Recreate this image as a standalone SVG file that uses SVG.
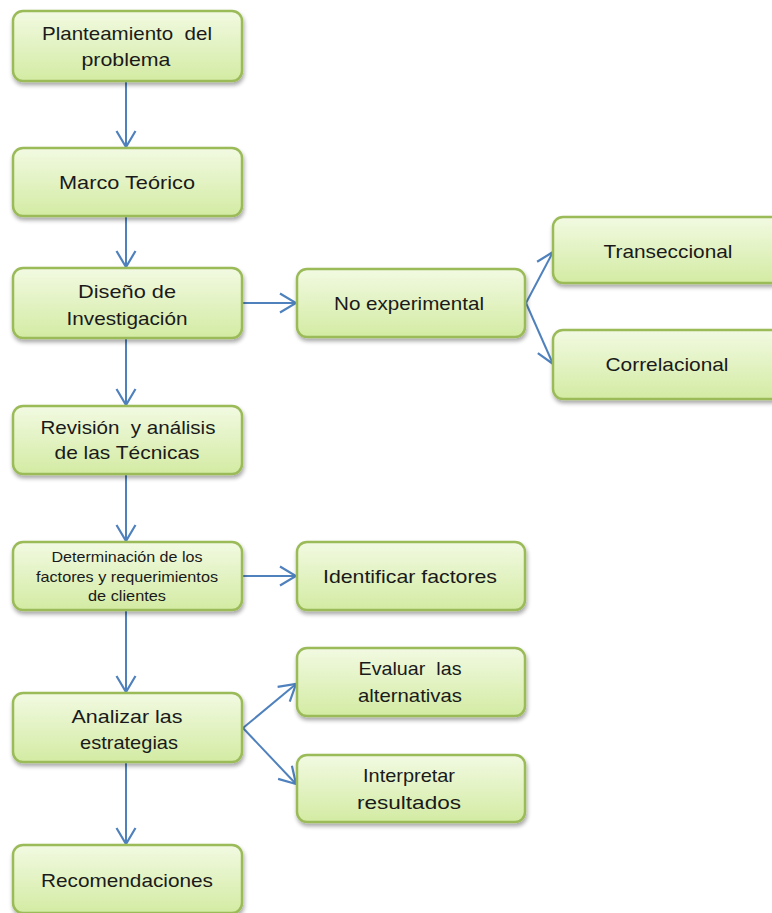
<svg xmlns="http://www.w3.org/2000/svg" width="772" height="913" viewBox="0 0 772 913">
  <style>
    .box { fill: url(#boxFill); stroke: #9bbb59; stroke-width: 2.5; filter: url(#shadow); }
    .lbl { font-family: "Liberation Sans", Arial, sans-serif; font-size: 19px; fill: #1a1a1a; text-anchor: middle; white-space: pre; }
    .sm { font-size: 15px; }
    .edge { fill: none; stroke: #4f81bd; stroke-width: 2; marker-end: url(#arrow); }
  </style>
  <defs>
    <linearGradient id="boxFill" x1="0" y1="0" x2="0" y2="1">
      <stop offset="0" stop-color="#f2fae2"/>
      <stop offset="1" stop-color="#d3eba3"/>
    </linearGradient>
    <filter id="shadow" x="-10%" y="-20%" width="125%" height="150%">
      <feGaussianBlur in="SourceAlpha" stdDeviation="2"/>
      <feOffset dx="1" dy="3" result="b"/>
      <feComponentTransfer><feFuncA type="linear" slope="0.35"/></feComponentTransfer>
      <feMerge><feMergeNode/><feMergeNode in="SourceGraphic"/></feMerge>
    </filter>
    <!-- open V arrowhead -->
    <marker id="arrow" viewBox="0 0 20 22" refX="18" refY="11" markerWidth="20" markerHeight="22" markerUnits="userSpaceOnUse" orient="auto">
      <path d="M2,1.5 L18,11 L2,20.5" fill="none" stroke="#4f81bd" stroke-width="2.2"/>
    </marker>
  </defs>

  <g id="connectors">
    <line class="edge" x1="126" y1="82" x2="126" y2="147"/>
    <line class="edge" x1="126" y1="217" x2="126" y2="267"/>
    <line class="edge" x1="126" y1="339" x2="126" y2="405"/>
    <line class="edge" x1="126" y1="475" x2="126" y2="541"/>
    <line class="edge" x1="126" y1="611" x2="126" y2="692"/>
    <line class="edge" x1="126" y1="763" x2="126" y2="844"/>
    <line class="edge" x1="243" y1="303" x2="296" y2="303"/>
    <line class="edge" x1="526" y1="303" x2="553" y2="252"/>
    <line class="edge" x1="526" y1="303" x2="553" y2="364"/>
    <line class="edge" x1="243" y1="576" x2="296" y2="576"/>
    <line class="edge" x1="243" y1="728" x2="296" y2="684"/>
    <line class="edge" x1="243" y1="728" x2="296" y2="784"/>
  </g>

  <g id="planteamiento">
    <rect class="box" x="13" y="11" width="229" height="70" rx="10"/>
    <text class="lbl" x="127" y="40" textLength="170" lengthAdjust="spacingAndGlyphs">Planteamiento  del</text>
    <text class="lbl" x="126" y="66" textLength="89" lengthAdjust="spacingAndGlyphs">problema</text>
  </g>
  <g id="marco">
    <rect class="box" x="13" y="148" width="229" height="68" rx="10"/>
    <text class="lbl" x="127" y="189" textLength="136" lengthAdjust="spacingAndGlyphs">Marco Teórico</text>
  </g>
  <g id="diseno">
    <rect class="box" x="13" y="268" width="229" height="70" rx="10"/>
    <text class="lbl" x="127" y="298" textLength="98" lengthAdjust="spacingAndGlyphs">Diseño de</text>
    <text class="lbl" x="127" y="325" textLength="121" lengthAdjust="spacingAndGlyphs">Investigación</text>
  </g>
  <g id="revision">
    <rect class="box" x="13" y="406" width="229" height="68" rx="10"/>
    <text class="lbl" x="128" y="434" textLength="175" lengthAdjust="spacingAndGlyphs">Revisión  y análisis</text>
    <text class="lbl" x="127" y="459" textLength="145" lengthAdjust="spacingAndGlyphs">de las Técnicas</text>
  </g>
  <g id="determinacion">
    <rect class="box" x="13" y="542" width="229" height="68" rx="10"/>
    <text class="lbl sm" x="127" y="562" textLength="151" lengthAdjust="spacingAndGlyphs">Determinación de los</text>
    <text class="lbl sm" x="127" y="581.5" textLength="182" lengthAdjust="spacingAndGlyphs">factores y requerimientos</text>
    <text class="lbl sm" x="127" y="601" textLength="78" lengthAdjust="spacingAndGlyphs">de clientes</text>
  </g>
  <g id="analizar">
    <rect class="box" x="13" y="693" width="229" height="69" rx="10"/>
    <text class="lbl" x="127" y="723" textLength="111" lengthAdjust="spacingAndGlyphs">Analizar las</text>
    <text class="lbl" x="129" y="749" textLength="98" lengthAdjust="spacingAndGlyphs">estrategias</text>
  </g>
  <g id="recomendaciones">
    <rect class="box" x="13" y="845" width="229" height="68" rx="10"/>
    <text class="lbl" x="127" y="887" textLength="172" lengthAdjust="spacingAndGlyphs">Recomendaciones</text>
  </g>
  <g id="no-experimental">
    <rect class="box" x="297" y="269" width="228" height="68" rx="10"/>
    <text class="lbl" x="409" y="310" textLength="150" lengthAdjust="spacingAndGlyphs">No experimental</text>
  </g>
  <g id="transeccional">
    <rect class="box" x="553" y="217" width="230" height="66" rx="10"/>
    <text class="lbl" x="668" y="258" textLength="129" lengthAdjust="spacingAndGlyphs">Transeccional</text>
  </g>
  <g id="correlacional">
    <rect class="box" x="553" y="330" width="230" height="69" rx="10"/>
    <text class="lbl" x="667" y="371" textLength="123" lengthAdjust="spacingAndGlyphs">Correlacional</text>
  </g>
  <g id="identificar">
    <rect class="box" x="297" y="542" width="228" height="68" rx="10"/>
    <text class="lbl" x="410" y="583" textLength="174" lengthAdjust="spacingAndGlyphs">Identificar factores</text>
  </g>
  <g id="evaluar">
    <rect class="box" x="297" y="648" width="228" height="68" rx="10"/>
    <text class="lbl" x="410" y="675" textLength="103" lengthAdjust="spacingAndGlyphs">Evaluar  las</text>
    <text class="lbl" x="410" y="702" textLength="104" lengthAdjust="spacingAndGlyphs">alternativas</text>
  </g>
  <g id="interpretar">
    <rect class="box" x="297" y="755" width="228" height="67" rx="10"/>
    <text class="lbl" x="409" y="782" textLength="92" lengthAdjust="spacingAndGlyphs">Interpretar</text>
    <text class="lbl" x="409" y="809" textLength="104" lengthAdjust="spacingAndGlyphs">resultados</text>
  </g>
</svg>
